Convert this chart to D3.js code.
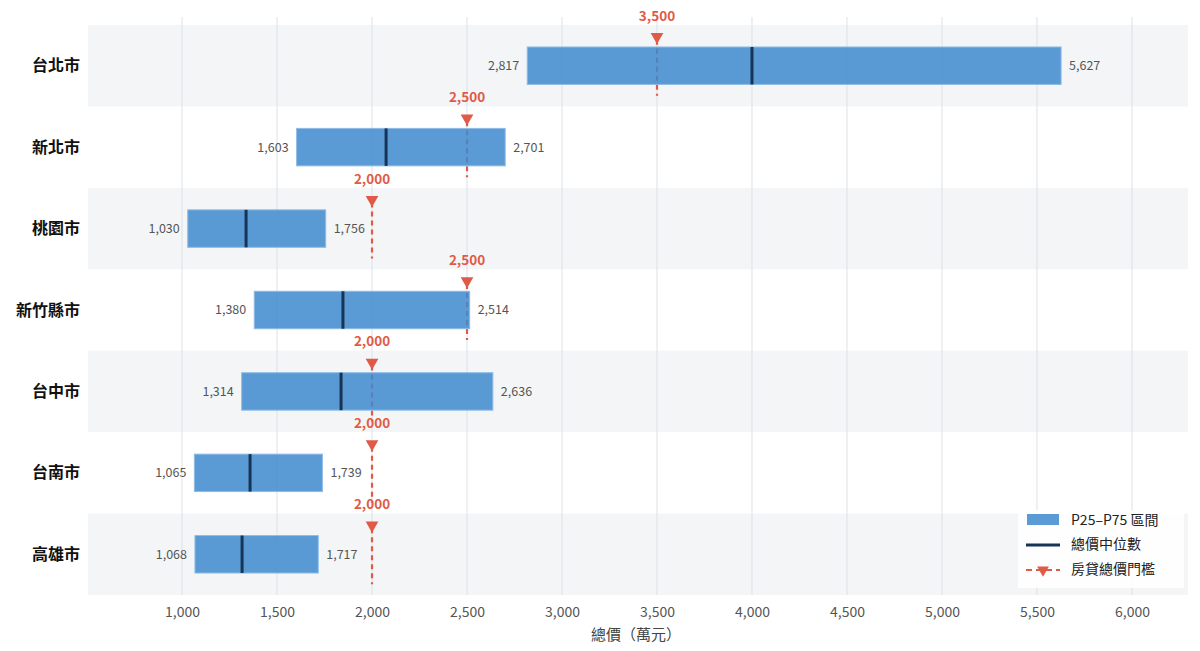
<!DOCTYPE html>
<html>
<head>
<meta charset="utf-8">
<script src="https://cdn.jsdelivr.net/npm/d3@7"></script>
<style>
  body { margin: 0; background: #fff; }
  svg { display: block; font-family: "Noto Sans CJK TC", "Noto Sans", sans-serif; }
</style>
</head>
<body>
<svg id="chart" width="1200" height="651"></svg>
<script>
// data
var cities = ['台北市', '新北市', '桃園市', '新竹縣市', '台中市', '台南市', '高雄市'];
var p25 = [2817, 1603, 1030, 1380, 1314, 1065, 1068];
var p75 = [5627, 2701, 1756, 2514, 2636, 1739, 1717];
var medians = [4000, 2074, 1337, 1847, 1837, 1358, 1316];
var thresholds = [3500, 2500, 2000, 2500, 2000, 2000, 2000];
var xTicks = [1000, 1500, 2000, 2500, 3000, 3500, 4000, 4500, 5000, 5500, 6000];

var rows = cities.map(function(c, i) {
  return { city: c, lo: p25[i], hi: p75[i], med: medians[i], thr: thresholds[i], i: i };
});

var svg = d3.select('#chart');
var plotL = 88, plotR = 1188, plotT = 25, plotB = 595;
var fmt = d3.format(',');

var x = d3.scaleLinear().domain([505, 6295]).range([plotL, plotR]);
var y = d3.scaleBand().domain(cities).range([plotT, plotB]).paddingInner(0).paddingOuter(0);
var bw = y.bandwidth();
var barH = bw * 0.46;

var red = '#e05a47';
var blue = '#3e89ce';
var navy = '#173456';

// alternating row backgrounds
svg.append('g').selectAll('rect')
  .data(rows.filter(function(d) { return d.i % 2 === 0; }))
  .enter().append('rect')
  .attr('x', plotL)
  .attr('y', function(d) { return y(d.city); })
  .attr('width', plotR - plotL)
  .attr('height', bw)
  .attr('fill', '#f3f5f7');

// vertical grid
svg.append('g').selectAll('line')
  .data(xTicks)
  .enter().append('line')
  .attr('x1', x).attr('x2', x)
  .attr('y1', 17).attr('y2', plotB)
  .attr('stroke', '#dde1e6')
  .attr('stroke-width', 1);

// x axis
var xAxis = svg.append('g')
  .attr('transform', 'translate(0,' + plotB + ')')
  .call(d3.axisBottom(x).tickValues(xTicks).tickFormat(fmt).tickSize(0).tickPadding(12));
xAxis.select('.domain').remove();
xAxis.selectAll('text')
  .attr('font-size', 14)
  .attr('fill', '#555')
  .attr('font-family', '"Noto Sans CJK TC", sans-serif');

svg.append('text')
  .attr('x', (plotL + plotR) / 2 - 2)
  .attr('y', 640)
  .attr('text-anchor', 'middle')
  .attr('font-size', 15)
  .attr('fill', '#444')
  .text('總價（萬元）');

// y labels
svg.append('g').selectAll('text')
  .data(rows)
  .enter().append('text')
  .attr('x', 80)
  .attr('y', function(d) { return y(d.city) + bw / 2; })
  .attr('dy', '0.35em')
  .attr('text-anchor', 'end')
  .attr('font-size', 16)
  .attr('font-weight', 'bold')
  .attr('fill', '#111')
  .text(function(d) { return d.city; });

var g = svg.append('g').selectAll('g')
  .data(rows)
  .enter().append('g')
  .attr('transform', function(d) { return 'translate(0,' + (y(d.city) + bw / 2) + ')'; });

// threshold dashed line (drawn under the semi-transparent bar)
g.append('line')
  .attr('x1', function(d) { return x(d.thr); })
  .attr('x2', function(d) { return x(d.thr); })
  .attr('y1', -26)
  .attr('y2', 30)
  .attr('stroke', red)
  .attr('stroke-width', 2.2)
  .attr('stroke-dasharray', '5,4');

// P25-P75 bars
g.append('rect')
  .attr('x', function(d) { return x(d.lo); })
  .attr('y', -barH / 2)
  .attr('width', function(d) { return x(d.hi) - x(d.lo); })
  .attr('height', barH)
  .attr('fill', blue)
  .attr('fill-opacity', 0.85)
  .attr('stroke', '#8fbbe6')
  .attr('stroke-width', 1);

// median
g.append('line')
  .attr('x1', function(d) { return x(d.med); })
  .attr('x2', function(d) { return x(d.med); })
  .attr('y1', -barH / 2)
  .attr('y2', barH / 2)
  .attr('stroke', navy)
  .attr('stroke-width', 3);

// threshold triangle + label
g.append('path')
  .attr('d', d3.symbol().type(d3.symbolTriangle).size(70))
  .attr('transform', function(d) { return 'translate(' + x(d.thr) + ',-29) rotate(180)'; })
  .attr('fill', red);

g.append('text')
  .attr('x', function(d) { return x(d.thr); })
  .attr('y', -45)
  .attr('text-anchor', 'middle')
  .attr('font-size', 13.5)
  .attr('font-weight', 'bold')
  .attr('fill', red)
  .text(function(d) { return fmt(d.thr); });

// value labels
g.append('text')
  .attr('x', function(d) { return x(d.lo) - 8; })
  .attr('dy', '0.35em')
  .attr('text-anchor', 'end')
  .attr('font-size', 12.5)
  .attr('fill', '#555')
  .text(function(d) { return fmt(d.lo); });

g.append('text')
  .attr('x', function(d) { return x(d.hi) + 8; })
  .attr('dy', '0.35em')
  .attr('text-anchor', 'start')
  .attr('font-size', 12.5)
  .attr('fill', '#555')
  .text(function(d) { return fmt(d.hi); });

// legend
var lg = svg.append('g').attr('transform', 'translate(1018,510)');
lg.append('rect')
  .attr('width', 166).attr('height', 78)
  .attr('fill', '#fff').attr('fill-opacity', 0.9);

lg.append('rect')
  .attr('x', 9).attr('y', 4).attr('width', 32).attr('height', 11)
  .attr('fill', blue).attr('fill-opacity', 0.85);
lg.append('line')
  .attr('x1', 8).attr('x2', 42).attr('y1', 35).attr('y2', 35)
  .attr('stroke', navy).attr('stroke-width', 3);
lg.append('line')
  .attr('x1', 8).attr('x2', 42).attr('y1', 60).attr('y2', 60)
  .attr('stroke', red).attr('stroke-width', 2.2).attr('stroke-dasharray', '6,4');
lg.append('path')
  .attr('d', d3.symbol().type(d3.symbolTriangle).size(60))
  .attr('transform', 'translate(25,60) rotate(180)')
  .attr('fill', red);

var labels = ['P25–P75 區間', '總價中位數', '房貸總價門檻'];
lg.selectAll('text.lbl')
  .data(labels)
  .enter().append('text')
  .attr('class', 'lbl')
  .attr('x', 53)
  .attr('y', function(d, i) { return 10 + i * 24.5; })
  .attr('dy', '0.35em')
  .attr('font-size', 14)
  .attr('fill', '#222')
  .text(function(d) { return d; });
</script>
</body>
</html>
